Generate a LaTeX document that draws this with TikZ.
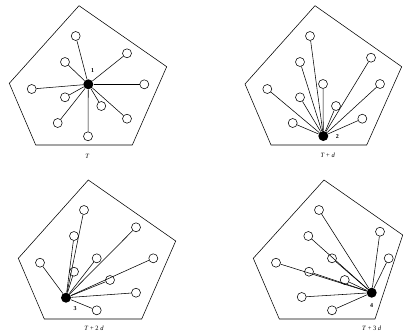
\documentclass[tikz,border=0pt]{standalone}
\usepackage{fontspec}
\setmainfont{Liberation Serif}
\begin{document}
\begin{tikzpicture}[x=1pt, y=-1pt, line width=0.55pt,
  leaf/.style={circle, draw, inner sep=0pt, minimum size=9pt},
  hub/.style={circle, fill=black, inner sep=0pt, minimum size=10pt},
  tag/.style={font=\fontsize{6}{7}\selectfont\bfseries},
  caption/.style={font=\fontsize{6.5}{7}\selectfont}]
  \useasboundingbox (0,0) rectangle (403,335);
  % panel T
  \draw (79,5.7) -- (166.7,66.7) -- (132.3,145) -- (35.7,145) -- (9.3,83.3) -- cycle;
  \node[hub] (h1) at (88.3,84.3) {};
  \node[leaf] (a1) at (75.7,36) {};
  \node[leaf] (b1) at (127,53.3) {};
  \node[leaf] (c1) at (65,62) {};
  \node[leaf] (d1) at (31.7,89) {};
  \node[leaf] (e1) at (144.3,84.3) {};
  \node[leaf] (f1) at (65,97.3) {};
  \node[leaf] (g1) at (101.3,106) {};
  \node[leaf] (i1) at (57.7,123) {};
  \node[leaf] (j1) at (127,118.7) {};
  \node[leaf] (k1) at (88,136.3) {};
  \node[tag] (n1) at (92.7,70.7) {1};
  \node[caption] (t1) at (87.3,156) {\textit{T}};
  % panel T + d
  \draw (315,5.7) -- (401.7,66.7) -- (366.7,145) -- (271,145) -- (245,84) -- cycle;
  \node[hub] (h2) at (323.3,136) {};
  \node[leaf] (a2) at (310,36) {};
  \node[leaf] (b2) at (300,62) {};
  \node[leaf] (c2) at (371,57.7) {};
  \node[leaf] (d2) at (323,84) {};
  \node[leaf] (e2) at (380,84) {};
  \node[leaf] (f2) at (267.3,89) {};
  \node[leaf] (g2) at (300,97.3) {};
  \node[leaf] (i2) at (336,106) {};
  \node[leaf] (j2) at (292.7,123) {};
  \node[leaf] (k2) at (362.3,118.7) {};
  \node[tag] (n2) at (337.3,136.5) {2};
  \node[caption] (t2) at (327.7,155.3) {\textit{T} + \textit{d}};
  % panel T + 2 d
  \draw (88.3,180) -- (175.7,241) -- (141.7,319) -- (44.3,319) -- (18.3,258.3) -- cycle;
  \node[hub] (h3) at (66,297.7) {};
  \node[leaf] (a3) at (84,210) {};
  \node[leaf] (b3) at (136,227.3) {};
  \node[leaf] (c3) at (74,236) {};
  \node[leaf] (d3) at (40,262.7) {};
  \node[leaf] (e3) at (96.7,258.3) {};
  \node[leaf] (f3) at (153.3,258.3) {};
  \node[leaf] (g3) at (74,271.7) {};
  \node[leaf] (i3) at (110,280) {};
  \node[leaf] (j3) at (136,292.7) {};
  \node[leaf] (k3) at (96.7,310.3) {};
  \node[tag] (n3) at (75,308.3) {3};
  \node[caption] (t3) at (94,328.7) {\textit{T} + 2 \textit{d}};
  % panel T + 3 d
  \draw (324,180) -- (402.7,235) -- (375,319) -- (279.3,319) -- (253.3,258.3) -- cycle;
  \node[hub] (h4) at (371.7,292.7) {};
  \node[leaf] (a4) at (319,210) {};
  \node[leaf] (b4) at (380,231.7) {};
  \node[leaf] (c4) at (308.3,236) {};
  \node[leaf] (d4) at (332,258.3) {};
  \node[leaf] (e4) at (388.7,258.3) {};
  \node[leaf] (f4) at (276,262.7) {};
  \node[leaf] (g4) at (309,271.7) {};
  \node[leaf] (i4) at (344.7,280) {};
  \node[leaf] (j4) at (301.7,297) {};
  \node[leaf] (k4) at (332,310.3) {};
  \node[tag] (n4) at (371.7,306) {4};
  \node[caption] (t4) at (371.7,328.7) {\textit{T} + 3 \textit{d}};
  % spokes
  \foreach \p in {1,2,3,4}
    \foreach \q in {a,b,c,d,e,f,g,i,j,k}
      \draw (h\p) -- (\q\p);
\end{tikzpicture}
\end{document}
